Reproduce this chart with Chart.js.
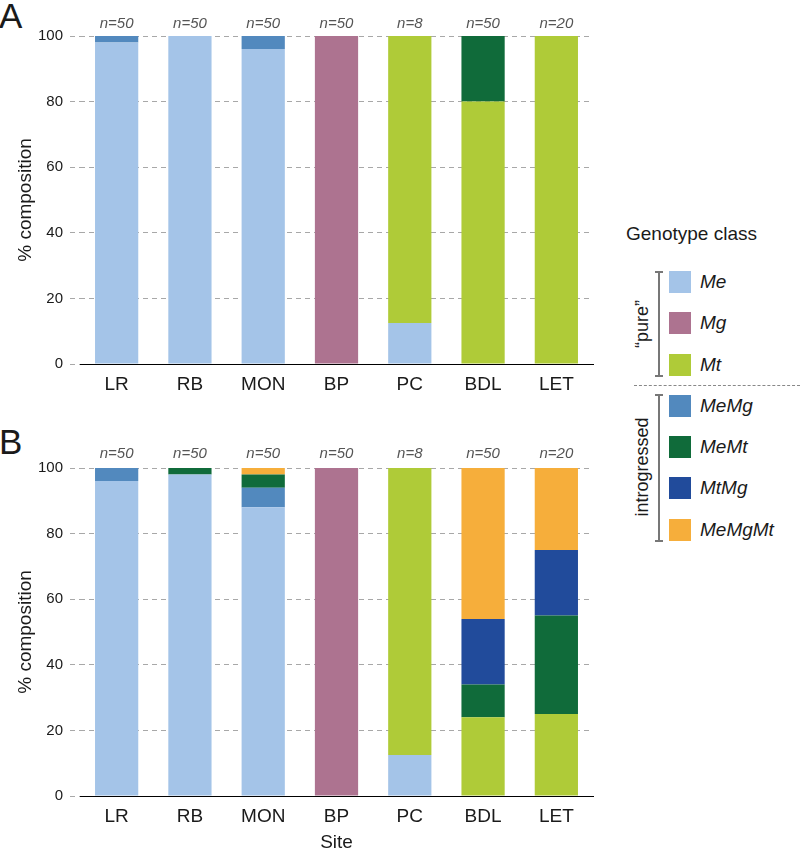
<!DOCTYPE html>
<html>
<head>
<meta charset="utf-8">
<script src="https://cdn.jsdelivr.net/npm/chart.js@4.4.1/dist/chart.umd.min.js"></script>
<style>
  body { margin: 0; background: #fff; font-family: "Liberation Sans", Arial, sans-serif; color: #1a1a1a; }
  #page { position: relative; width: 800px; height: 852px; overflow: hidden; }
  canvas { position: absolute; left: 0; }
  .letter { position: absolute; left: -1px; font-size: 35px; line-height: 1; }
  .lg { position: absolute; font-size: 19px; line-height: 1; white-space: nowrap; }
  .sw { position: absolute; left: 669px; width: 22px; height: 22px; }
  .it { font-style: italic; left: 700px; }
  .rot { position: absolute; font-size: 18px; white-space: nowrap; transform: translate(-50%, -50%) rotate(-90deg); }
  .brk { position: absolute; left: 658px; width: 1.5px; background: #777; }
  .cap { position: absolute; left: 655px; width: 8px; height: 1.5px; background: #777; }
</style>
</head>
<body>
<div id="page">
  <div class="letter" style="top:-2px">A</div>
  <div class="letter" style="top:424px">B</div>
  <canvas id="chartA" width="600" height="400" style="top:0"></canvas>
  <canvas id="chartB" width="600" height="420" style="top:432px"></canvas>
  <div id="legend"></div>
</div>
<script>
// sites and sample sizes
var sites = ['LR', 'RB', 'MON', 'BP', 'PC', 'BDL', 'LET'];
var sampleLabels = ['n=50', 'n=50', 'n=50', 'n=50', 'n=8', 'n=50', 'n=20'];

// genotype classes, bottom of stack to top
var classNames = ['Me', 'Mg', 'Mt', 'MeMg', 'MeMt', 'MtMg', 'MeMgMt'];
var classColors = ['#a4c4e8', '#ad7390', '#afcb38', '#5289be', '#106b3a', '#214b9b', '#f6ae3b'];

// panel A (% composition)
var meA     = [98, 100, 96, 0, 12.5, 0, 0];
var mgA     = [0, 0, 0, 100, 0, 0, 0];
var mtA     = [0, 0, 0, 0, 87.5, 80, 100];
var meMgA   = [2, 0, 4, 0, 0, 0, 0];
var meMtA   = [0, 0, 0, 0, 0, 20, 0];
var mtMgA   = [0, 0, 0, 0, 0, 0, 0];
var meMgMtA = [0, 0, 0, 0, 0, 0, 0];

// panel B (% composition)
var meB     = [96, 98, 88, 0, 12.5, 0, 0];
var mgB     = [0, 0, 0, 100, 0, 0, 0];
var mtB     = [0, 0, 0, 0, 87.5, 24, 25];
var meMgB   = [4, 0, 6, 0, 0, 0, 0];
var meMtB   = [0, 2, 4, 0, 0, 10, 30];
var mtMgB   = [0, 0, 0, 0, 0, 20, 20];
var meMgMtB = [0, 0, 2, 0, 0, 46, 25];

var yTicks = [0, 20, 40, 60, 80, 100];

// draws the n= labels above each bar
var nLabels = {
  id: 'nLabels',
  afterDatasetsDraw: function(chart, args, opts) {
    var ctx = chart.ctx;
    var xs = chart.scales.x;
    ctx.save();
    ctx.font = 'italic 15px "Liberation Sans", Arial, sans-serif';
    ctx.fillStyle = '#555';
    ctx.textAlign = 'center';
    ctx.textBaseline = 'middle';
    opts.labels.forEach(function(t, i) {
      ctx.fillText(t, xs.getPixelForValue(i), chart.chartArea.top - opts.offset);
    });
    ctx.restore();
  }
};

function makeChart(id, series, xHeight, nOffset, showSite) {
  var ctx = document.getElementById(id).getContext('2d');
  var datasets = series.map(function(vals, k) {
    return {
      label: classNames[k],
      data: vals,
      backgroundColor: classColors[k],
      borderWidth: 0,
      barPercentage: 0.59,
      categoryPercentage: 1
    };
  });
  return new Chart(ctx, {
    type: 'bar',
    data: { labels: sites, datasets: datasets },
    plugins: [nLabels],
    options: {
      responsive: false,
      animation: false,
      layout: { padding: { top: 36, right: 7, left: 0, bottom: 0 } },
      plugins: {
        legend: { display: false },
        tooltip: { enabled: false },
        nLabels: { labels: sampleLabels, offset: nOffset }
      },
      scales: {
        x: {
          stacked: true,
          grid: { display: false, drawTicks: false },
          border: { display: true, color: '#000', width: 1 },
          ticks: { color: '#1a1a1a', padding: 9, font: { size: 19, family: '"Liberation Sans", Arial, sans-serif' } },
          title: {
            display: showSite,
            text: 'Site',
            color: '#1a1a1a',
            padding: { top: 0, bottom: 0 },
            font: { size: 19, lineHeight: 1, family: '"Liberation Sans", Arial, sans-serif' }
          },
          afterFit: function(s) { s.height = xHeight; }
        },
        y: {
          stacked: true,
          min: 0,
          max: 100,
          afterBuildTicks: function(s) { s.ticks = yTicks.map(function(v) { return { value: v }; }); },
          grid: { color: '#a8a8a8', lineWidth: 1, tickLength: 10, tickColor: '#a8a8a8', tickBorderDash: [5, 4] },
          border: { display: false, dash: [5, 4] },
          ticks: { color: '#1a1a1a', padding: 7, font: { size: 15, family: '"Liberation Sans", Arial, sans-serif' } },
          title: {
            display: true,
            text: '% composition',
            color: '#1a1a1a',
            padding: { top: 14, bottom: 0 },
            font: { size: 19, family: '"Liberation Sans", Arial, sans-serif' }
          },
          afterFit: function(s) { s.width = 80; }
        }
      }
    }
  });
}

makeChart('chartA', [meA, mgA, mtA, meMgA, meMtA, mtMgA, meMgMtA], 36, 12, false);
makeChart('chartB', [meB, mgB, mtB, meMgB, meMtB, mtMgB, meMgMtB], 56, 14, true);

// legend on the right
var legendCenters = [282, 323, 365, 406, 447, 488, 530];
var html = '<div class="lg" style="left:626px;top:224px">Genotype class</div>';
classNames.forEach(function(name, k) {
  var c = legendCenters[k];
  html += '<div class="sw" style="top:' + (c - 11) + 'px;background:' + classColors[k] + '"></div>';
  html += '<div class="lg it" style="top:' + (c - 10) + 'px">' + name + '</div>';
});
html += '<div class="brk" style="top:272px;height:104px"></div>';
html += '<div class="cap" style="top:271px"></div><div class="cap" style="top:375px"></div>';
html += '<div class="brk" style="top:395px;height:146px"></div>';
html += '<div class="cap" style="top:394px"></div><div class="cap" style="top:540px"></div>';
html += '<div class="rot" style="left:642px;top:324px">\u201cpure\u201d</div>';
html += '<div class="rot" style="left:642px;top:467px">introgressed</div>';
html += '<div style="position:absolute;left:634px;top:385px;width:166px;border-top:1px dashed #888"></div>';
document.getElementById('legend').innerHTML = html;
</script>
</body>
</html>
